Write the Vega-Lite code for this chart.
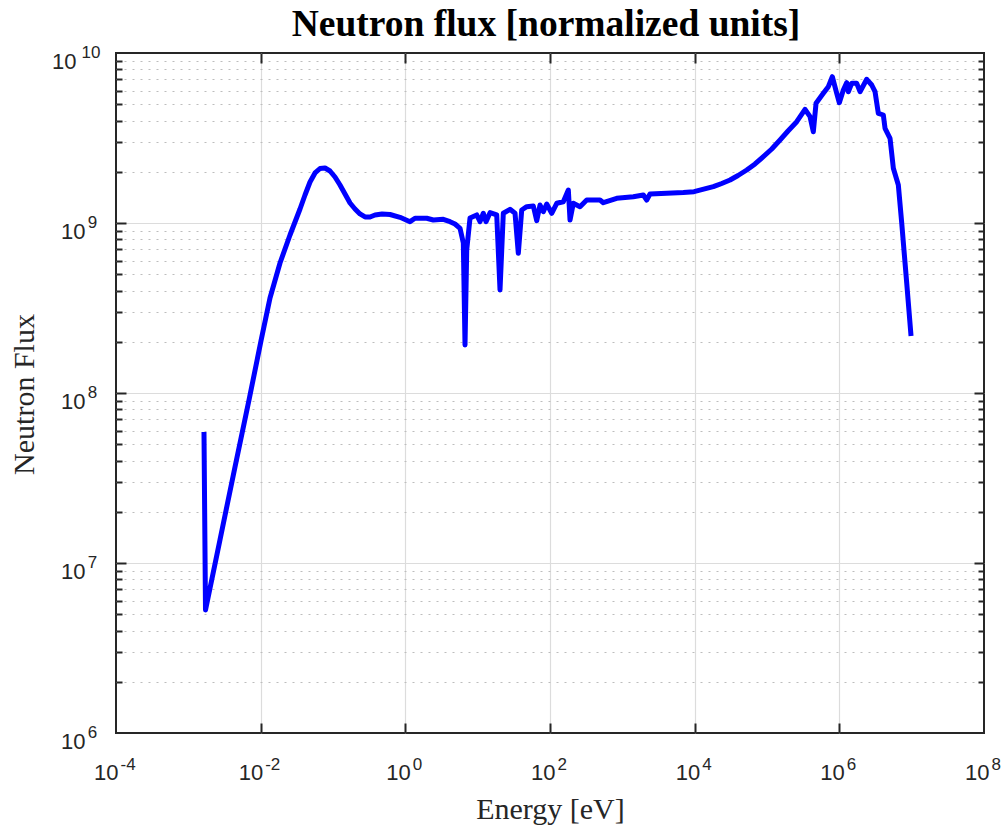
{
  "$schema": "https://vega.github.io/schema/vega-lite/v6.json",
  "width": 868,
  "height": 680,
  "autosize": "none",
  "padding": {"left": 116, "top": 53, "right": 21, "bottom": 95},
  "background": "white",
  "view": {"stroke": "#262626", "strokeWidth": 2, "fill": "white"},
  "title": {
    "text": "Neutron flux [normalized units]",
    "font": "Liberation Serif",
    "fontSize": 37.5,
    "fontWeight": "bold",
    "color": "#000000",
    "frame": "group",
    "anchor": "middle",
    "baseline": "alphabetic",
    "offset": 16,
    "dy": 46,
    "dx": -4
  },
  "data": {
    "values": [
      {"energy": 1.646e-3, "flux": 5.90e7},
      {"energy": 1.727e-3, "flux": 5.29e6},
      {"energy": 2.741e-3, "flux": 1.371e7},
      {"energy": 4.417e-3, "flux": 3.675e7},
      {"energy": 6.90e-3, "flux": 9.10e7},
      {"energy": 1.011e-2, "flux": 2.028e8},
      {"energy": 1.346e-2, "flux": 3.623e8},
      {"energy": 1.851e-2, "flux": 5.817e8},
      {"energy": 2.544e-2, "flux": 8.500e8},
      {"energy": 3.499e-2, "flux": 1.209e9},
      {"energy": 4.102e-2, "flux": 1.461e9},
      {"energy": 4.811e-2, "flux": 1.742e9},
      {"energy": 5.640e-2, "flux": 1.969e9},
      {"energy": 6.613e-2, "flux": 2.092e9},
      {"energy": 7.754e-2, "flux": 2.106e9},
      {"energy": 9.093e-2, "flux": 2.022e9},
      {"energy": 0.1066, "flux": 1.865e9},
      {"energy": 0.1250, "flux": 1.673e9},
      {"energy": 0.1466, "flux": 1.481e9},
      {"energy": 0.1719, "flux": 1.311e9},
      {"energy": 0.2015, "flux": 1.209e9},
      {"energy": 0.2362, "flux": 1.130e9},
      {"energy": 0.2771, "flux": 1.085e9},
      {"energy": 0.3249, "flux": 1.085e9},
      {"energy": 0.3809, "flux": 1.115e9},
      {"energy": 0.4762, "flux": 1.130e9},
      {"energy": 0.6140, "flux": 1.122e9},
      {"energy": 0.844, "flux": 1.080e9},
      {"energy": 1.161, "flux": 1.018e9},
      {"energy": 1.361, "flux": 1.066e9},
      {"energy": 1.975, "flux": 1.066e9},
      {"energy": 2.437, "flux": 1.041e9},
      {"energy": 3.350, "flux": 1.051e9},
      {"energy": 4.147, "flux": 1.018e9},
      {"energy": 4.863, "flux": 9.865e8},
      {"energy": 5.702, "flux": 9.307e8},
      {"energy": 6.333, "flux": 7.627e8},
      {"energy": 6.685, "flux": 1.916e8},
      {"energy": 7.057, "flux": 6.94e8},
      {"energy": 7.839, "flux": 1.070e9},
      {"energy": 9.703, "flux": 1.115e9},
      {"energy": 10.78, "flux": 1.018e9},
      {"energy": 11.97, "flux": 1.141e9},
      {"energy": 13.05, "flux": 1.018e9},
      {"energy": 14.82, "flux": 1.150e9},
      {"energy": 18.34, "flux": 1.115e9},
      {"energy": 20.37, "flux": 4.035e8},
      {"energy": 22.62, "flux": 1.141e9},
      {"energy": 28.01, "flux": 1.204e9},
      {"energy": 32.85, "flux": 1.141e9},
      {"energy": 36.48, "flux": 6.633e8},
      {"energy": 40.64, "flux": 1.193e9},
      {"energy": 47.66, "flux": 1.247e9},
      {"energy": 58.82, "flux": 1.259e9},
      {"energy": 65.53, "flux": 1.032e9},
      {"energy": 72.78, "flux": 1.276e9},
      {"energy": 80.86, "flux": 1.166e9},
      {"energy": 90.09, "flux": 1.293e9},
      {"energy": 105.6, "flux": 1.141e9},
      {"energy": 123.9, "flux": 1.306e9},
      {"energy": 152.8, "flux": 1.334e9},
      {"energy": 179.2, "flux": 1.564e9},
      {"energy": 189.2, "flux": 1.041e9},
      {"energy": 210.1, "flux": 1.306e9},
      {"energy": 260.0, "flux": 1.247e9},
      {"energy": 321.9, "flux": 1.365e9},
      {"energy": 491.5, "flux": 1.365e9},
      {"energy": 546.0, "flux": 1.316e9},
      {"energy": 836.6, "flux": 1.397e9},
      {"energy": 1419, "flux": 1.428e9},
      {"energy": 1951, "flux": 1.461e9},
      {"energy": 2174, "flux": 1.365e9},
      {"energy": 2414, "flux": 1.481e9},
      {"energy": 4110, "flux": 1.495e9},
      {"energy": 6970, "flux": 1.512e9},
      {"energy": 9800, "flux": 1.528e9},
      {"energy": 1.811e4, "flux": 1.635e9},
      {"energy": 2.367e4, "flux": 1.708e9},
      {"energy": 3.083e4, "flux": 1.790e9},
      {"energy": 3.977e4, "flux": 1.903e9},
      {"energy": 5.246e4, "flux": 2.050e9},
      {"energy": 6.832e4, "flux": 2.224e9},
      {"energy": 8.899e4, "flux": 2.455e9},
      {"energy": 1.163e5, "flux": 2.725e9},
      {"energy": 1.514e5, "flux": 3.077e9},
      {"energy": 1.953e5, "flux": 3.477e9},
      {"energy": 2.576e5, "flux": 3.944e9},
      {"energy": 3.356e5, "flux": 4.665e9},
      {"energy": 3.935e5, "flux": 4.22e9},
      {"energy": 4.370e5, "flux": 3.444e9},
      {"energy": 4.764e5, "flux": 5.059e9},
      {"energy": 6.008e5, "flux": 5.794e9},
      {"energy": 7.045e5, "flux": 6.337e9},
      {"energy": 8.002e5, "flux": 7.254e9},
      {"energy": 9.206e5, "flux": 5.794e9},
      {"energy": 1.0e6, "flux": 5.1e9},
      {"energy": 1.136e6, "flux": 6.06e9},
      {"energy": 1.266e6, "flux": 6.69e9},
      {"energy": 1.332e6, "flux": 5.921e9},
      {"energy": 1.484e6, "flux": 6.633e9},
      {"energy": 1.740e6, "flux": 6.633e9},
      {"energy": 1.933e6, "flux": 5.921e9},
      {"energy": 2.392e6, "flux": 7.003e9},
      {"energy": 2.805e6, "flux": 6.482e9},
      {"energy": 3.115e6, "flux": 5.921e9},
      {"energy": 3.461e6, "flux": 4.419e9},
      {"energy": 4.058e6, "flux": 4.318e9},
      {"energy": 4.283e6, "flux": 3.607e9},
      {"energy": 5.022e6, "flux": 3.149e9},
      {"energy": 5.581e6, "flux": 2.098e9},
      {"energy": 6.541e6, "flux": 1.673e9},
      {"energy": 7.290e6, "flux": 9.958e8},
      {"energy": 8.547e6, "flux": 4.419e8},
      {"energy": 9.80e6, "flux": 2.164e8}
    ]
  },
  "resolve": {"axis": {"x": "independent", "y": "independent"}},
  "layer": [
    {
      "mark": {"type": "line", "opacity": 0},
      "encoding": {
        "x": {"field": "energy", "type": "quantitative",
          "scale": {"type": "log", "domain": [1e-4, 1e8], "nice": false},
          "axis": {"orient": "bottom", "values": [1e-4, 1e-2, 1, 1e2, 1e4, 1e6, 1e8],
            "labelExpr": "'10'",
            "labelFont": "Liberation Sans", "labelFontSize": 22, "labelColor": "#262626",
            "labelBaseline": "alphabetic", "labelAlign": "right", "labelPadding": 46.5,
            "labelOffset": {"condition": {"test": "datum.value < 0.5", "value": 2}, "value": 5},
            "labelFlush": false, "labelOverlap": false,
            "ticks": false, "grid": false, "domain": false,
            "title": "Energy [eV]", "titleFont": "Liberation Serif", "titleFontSize": 30, "titleFontWeight": "normal",
            "titleColor": "#262626", "titleBaseline": "alphabetic", "titleY": 85}},
        "y": {"field": "flux", "type": "quantitative",
          "scale": {"type": "log", "domain": [1e6, 1e10], "nice": false},
          "axis": {"orient": "left", "values": [1e6, 1e7, 1e8, 1e9, 1e10],
            "labelExpr": "'10'",
            "labelFont": "Liberation Sans", "labelFontSize": 22, "labelColor": "#262626",
            "labelBaseline": "alphabetic", "labelAlign": "right",
            "labelPadding": {"condition": {"test": "datum.value > 5e9", "value": 40}, "value": 31},
            "labelOffset": 15, "labelFlush": false, "labelOverlap": false,
            "ticks": false, "grid": false, "domain": false,
            "title": "Neutron Flux", "titleFont": "Liberation Serif", "titleFontSize": 30, "titleFontWeight": "normal",
            "titleColor": "#262626", "titleBaseline": "alphabetic", "titleAngle": -90, "titleX": -83, "titleY": 341, "titleAlign": "center"}}
      }
    },
    {
      "mark": {"type": "line", "opacity": 0},
      "encoding": {
        "x": {"field": "energy", "type": "quantitative",
          "scale": {"type": "log", "domain": [1e-4, 1e8], "nice": false},
          "axis": {"orient": "bottom", "values": [1e-4, 1e-2, 1, 1e2, 1e4, 1e6, 1e8],
            "labelExpr": "'' + round(log(datum.value)/LN10)",
            "labelFont": "Liberation Sans", "labelFontSize": 17, "labelColor": "#262626",
            "labelBaseline": "alphabetic", "labelAlign": "left", "labelPadding": 36,
            "labelOffset": {"condition": {"test": "datum.value < 0.5", "value": 4}, "value": 7},
            "labelFlush": false, "labelOverlap": false,
            "ticks": false, "grid": false, "domain": false, "title": null}},
        "y": {"field": "flux", "type": "quantitative",
          "scale": {"type": "log", "domain": [1e6, 1e10], "nice": false},
          "axis": {"orient": "left", "values": [1e6, 1e7, 1e8, 1e9, 1e10],
            "labelExpr": "'' + round(log(datum.value)/LN10)",
            "labelFont": "Liberation Sans", "labelFontSize": 17, "labelColor": "#262626",
            "labelBaseline": "alphabetic", "labelAlign": "left",
            "labelPadding": {"condition": {"test": "datum.value > 5e9", "value": 35}, "value": 28.7},
            "labelOffset": 4, "labelFlush": false, "labelOverlap": false,
            "ticks": false, "grid": false, "domain": false, "title": null}}
      }
    },
    {
      "mark": {"type": "line", "opacity": 0},
      "encoding": {
        "x": {"field": "energy", "type": "quantitative",
          "scale": {"type": "log", "domain": [1e-4, 1e8], "nice": false},
          "axis": {"orient": "bottom", "values": [1e-2, 1, 1e2, 1e4, 1e6],
            "labels": false, "domain": false, "title": null,
            "ticks": true, "tickSize": -10, "tickWidth": 2, "tickColor": "#262626",
            "grid": true, "gridColor": "#dcdcdc", "gridWidth": 1.2}},
        "y": {"field": "flux", "type": "quantitative",
          "scale": {"type": "log", "domain": [1e6, 1e10], "nice": false},
          "axis": {"orient": "left", "values": [1e7, 1e8, 1e9],
            "labels": false, "domain": false, "title": null,
            "ticks": true, "tickSize": -10, "tickWidth": 2, "tickColor": "#262626",
            "grid": true, "gridColor": "#dcdcdc", "gridWidth": 1.2}}
      }
    },
    {
      "mark": {"type": "line", "opacity": 0},
      "encoding": {
        "x": {"field": "energy", "type": "quantitative",
          "scale": {"type": "log", "domain": [1e-4, 1e8], "nice": false},
          "axis": {"orient": "top", "values": [1e-2, 1, 1e2, 1e4, 1e6],
            "labels": false, "domain": false, "title": null, "grid": false,
            "ticks": true, "tickSize": -10, "tickWidth": 2, "tickColor": "#262626"}},
        "y": {"field": "flux", "type": "quantitative",
          "scale": {"type": "log", "domain": [1e6, 1e10], "nice": false},
          "axis": {"orient": "left",
            "values": [2e6, 3e6, 4e6, 5e6, 6e6, 7e6, 8e6, 9e6, 2e7, 3e7, 4e7, 5e7, 6e7, 7e7, 8e7, 9e7, 2e8, 3e8, 4e8, 5e8, 6e8, 7e8, 8e8, 9e8, 2e9, 3e9, 4e9, 5e9, 6e9, 7e9, 8e9, 9e9],
            "labels": false, "domain": false, "title": null,
            "ticks": true, "tickSize": -6, "tickWidth": 2, "tickColor": "#262626",
            "grid": true, "gridColor": "#bdbdbd", "gridWidth": 1.2, "gridDash": [2, 6]}}
      }
    },
    {
      "mark": {"type": "line", "opacity": 0},
      "encoding": {
        "x": {"field": "energy", "type": "quantitative",
          "scale": {"type": "log", "domain": [1e-4, 1e8], "nice": false},
          "axis": null},
        "y": {"field": "flux", "type": "quantitative",
          "scale": {"type": "log", "domain": [1e6, 1e10], "nice": false},
          "axis": {"orient": "right", "values": [1e7, 1e8, 1e9],
            "labels": false, "domain": false, "title": null, "grid": false,
            "ticks": true, "tickSize": -10, "tickWidth": 2, "tickColor": "#262626"}}
      }
    },
    {
      "mark": {"type": "line", "color": "#0000ff", "strokeWidth": 5, "strokeJoin": "round", "strokeCap": "butt"},
      "encoding": {
        "x": {"field": "energy", "type": "quantitative",
          "scale": {"type": "log", "domain": [1e-4, 1e8], "nice": false},
          "axis": null},
        "y": {"field": "flux", "type": "quantitative",
          "scale": {"type": "log", "domain": [1e6, 1e10], "nice": false},
          "axis": {"orient": "right",
            "values": [2e6, 3e6, 4e6, 5e6, 6e6, 7e6, 8e6, 9e6, 2e7, 3e7, 4e7, 5e7, 6e7, 7e7, 8e7, 9e7, 2e8, 3e8, 4e8, 5e8, 6e8, 7e8, 8e8, 9e8, 2e9, 3e9, 4e9, 5e9, 6e9, 7e9, 8e9, 9e9],
            "labels": false, "domain": false, "title": null, "grid": false,
            "ticks": true, "tickSize": -6, "tickWidth": 2, "tickColor": "#262626"}}
      }
    }
  ]
}
